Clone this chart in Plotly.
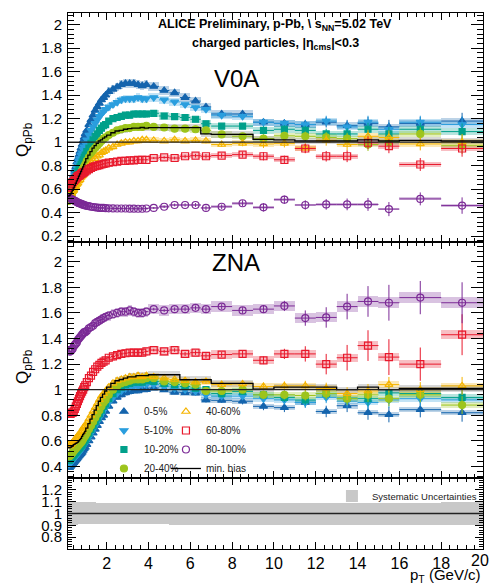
import plotly.graph_objects as go

# ---------------- data ----------------
pt_edges = [0.15, 0.2, 0.25, 0.3, 0.35, 0.4, 0.45, 0.5, 0.55, 0.6, 0.65, 0.7, 0.75, 0.8, 0.85, 0.9, 0.95, 1.0,
            1.1, 1.2, 1.3, 1.4, 1.5, 1.6, 1.7, 1.8, 1.9, 2.0,
            2.2, 2.4, 2.6, 2.8, 3.0, 3.2, 3.4, 3.6, 3.8, 4.0,
            4.5, 5.0, 5.5, 6.0, 6.5, 7.0, 8.0, 9.0, 10, 11, 12, 13, 14, 15, 16, 18, 20]

centrality_labels = ["0-5%", "5-10%", "10-20%", "20-40%", "40-60%", "60-80%", "80-100%"]

# V0A estimator
v0a_0_5 = [0.55, 0.58, 0.62, 0.65, 0.69, 0.72, 0.76, 0.79, 0.83, 0.86, 0.89, 0.92, 0.95, 0.98, 1.01, 1.04, 1.07,
           1.10, 1.15, 1.19, 1.23, 1.27, 1.30, 1.33, 1.36, 1.38, 1.40,
           1.43, 1.45, 1.47, 1.49, 1.50, 1.50, 1.50, 1.49, 1.48, 1.49,
           1.475, 1.44, 1.42, 1.38, 1.35, 1.30,
           1.24, 1.24, 1.17, 1.16, 1.15, 1.17, 1.14, 1.16, 1.13,
           1.16, 1.18]
v0a_5_10 = [0.55, 0.57, 0.60, 0.63, 0.66, 0.69, 0.72, 0.75, 0.78, 0.81, 0.84, 0.86, 0.89, 0.91, 0.94, 0.96, 0.99,
            1.02, 1.06, 1.10, 1.13, 1.16, 1.19, 1.22, 1.24, 1.26, 1.28,
            1.30, 1.32, 1.34, 1.36, 1.37, 1.37, 1.37, 1.38, 1.37, 1.37,
            1.38, 1.36, 1.343, 1.32, 1.295, 1.28,
            1.23, 1.22, 1.17, 1.16, 1.15, 1.18, 1.13, 1.17, 1.11,
            1.17, 1.15]
v0a_10_20 = [0.55, 0.57, 0.59, 0.61, 0.63, 0.66, 0.68, 0.70, 0.73, 0.75, 0.77, 0.79, 0.81, 0.83, 0.85, 0.87, 0.89,
             0.92, 0.95, 0.99, 1.02, 1.05, 1.07, 1.10, 1.12, 1.14, 1.15,
             1.18, 1.20, 1.21, 1.22, 1.23, 1.23, 1.24, 1.24, 1.24, 1.24,
             1.246, 1.223, 1.217, 1.21, 1.195, 1.157,
             1.137, 1.137, 1.10, 1.11, 1.10, 1.07, 1.07, 1.11, 1.07,
             1.11, 1.09]
v0a_20_40 = [0.50, 0.52, 0.54, 0.56, 0.58, 0.60, 0.62, 0.64, 0.66, 0.68, 0.70, 0.72, 0.74, 0.76, 0.78, 0.79, 0.81,
             0.84, 0.87, 0.90, 0.93, 0.95, 0.97, 0.99, 1.01, 1.03, 1.04,
             1.06, 1.08, 1.10, 1.11, 1.12, 1.12, 1.13, 1.13, 1.13, 1.14,
             1.13, 1.125, 1.115, 1.115, 1.11, 1.10,
             1.066, 1.05, 1.03, 1.054, 1.05, 1.04, 1.03, 0.98, 1.00,
             1.07, 0.97]
v0a_40_60 = [0.52, 0.53, 0.55, 0.56, 0.58, 0.59, 0.61, 0.62, 0.64, 0.65, 0.67, 0.68, 0.70, 0.71, 0.72, 0.74, 0.75,
             0.77, 0.79, 0.82, 0.84, 0.86, 0.88, 0.89, 0.91, 0.92, 0.93,
             0.95, 0.96, 0.98, 0.99, 1.00, 1.00, 1.01, 1.01, 1.02, 1.02,
             1.015, 1.01, 1.02, 1.01, 1.015, 1.01,
             0.98, 0.99, 0.985, 0.99, 0.95, 1.015, 0.98, 1.05, 1.04,
             0.985, 1.00]
v0a_60_80 = [0.61, 0.62, 0.63, 0.645, 0.66, 0.67, 0.68, 0.69, 0.70, 0.71, 0.715, 0.72, 0.73, 0.735, 0.74, 0.745, 0.75,
             0.76, 0.77, 0.78, 0.79, 0.795, 0.80, 0.805, 0.81, 0.815, 0.82,
             0.825, 0.83, 0.835, 0.84, 0.84, 0.845, 0.845, 0.85, 0.85, 0.85,
             0.865, 0.87, 0.865, 0.88, 0.885, 0.88,
             0.886, 0.894, 0.88, 0.85, 0.946, 0.88, 0.88, 0.995, 0.966,
             0.81, 0.946]
v0a_80_100 = [0.53, 0.525, 0.52, 0.515, 0.51, 0.505, 0.50, 0.495, 0.49, 0.485, 0.48, 0.478, 0.475, 0.47, 0.468, 0.465, 0.46,
              0.458, 0.455, 0.45, 0.448, 0.445, 0.443, 0.44, 0.44, 0.44, 0.438,
              0.437, 0.436, 0.435, 0.435, 0.435, 0.434, 0.434, 0.433, 0.433, 0.435,
              0.44, 0.45, 0.465, 0.465, 0.465, 0.44,
              0.45, 0.48, 0.445, 0.51, 0.465, 0.47, 0.47, 0.47, 0.43,
              0.517, 0.46]
v0a_minbias = [0.54, 0.545, 0.56, 0.575, 0.59, 0.61, 0.63, 0.65, 0.67, 0.69, 0.71, 0.73, 0.75, 0.77, 0.79, 0.81, 0.83,
               0.86, 0.89, 0.92, 0.95, 0.97, 0.99, 1.01, 1.02, 1.035, 1.045,
               1.06, 1.08, 1.095, 1.10, 1.11, 1.115, 1.12, 1.12, 1.125, 1.12,
               1.123, 1.123, 1.123, 1.123, 1.123, 1.07,
               1.066, 1.066, 1.023, 1.02, 1.01, 1.01, 1.01, 1.02, 1.01,
               1.015, 1.01]

# ZNA estimator
zna_0_5 = [0.39, 0.39, 0.40, 0.41, 0.42, 0.43, 0.44, 0.45, 0.46, 0.47, 0.48, 0.49, 0.50, 0.51, 0.525, 0.54, 0.55,
           0.57, 0.60, 0.63, 0.66, 0.69, 0.72, 0.75, 0.78, 0.80, 0.83,
           0.87, 0.91, 0.94, 0.96, 0.975, 0.985, 0.99, 0.99, 1.00, 1.00,
           1.013, 1.00, 0.98, 0.977, 0.974, 0.92,
           0.917, 0.91, 0.87, 0.86, 0.90, 0.83, 0.875, 0.82, 0.805,
           0.844, 0.82]
zna_5_10 = [0.42, 0.42, 0.43, 0.44, 0.45, 0.46, 0.47, 0.48, 0.49, 0.50, 0.51, 0.52, 0.53, 0.545, 0.56, 0.57, 0.585,
            0.60, 0.63, 0.66, 0.69, 0.72, 0.75, 0.78, 0.81, 0.84, 0.86,
            0.90, 0.94, 0.97, 0.99, 1.01, 1.02, 1.03, 1.03, 1.04, 1.04,
            1.04, 1.025, 1.01, 1.00, 0.987, 0.96,
            0.95, 0.95, 0.93, 0.92, 0.90, 0.94, 0.91, 0.90, 0.92,
            0.93, 0.92]
zna_10_20 = [0.45, 0.45, 0.46, 0.47, 0.48, 0.49, 0.50, 0.51, 0.52, 0.53, 0.54, 0.55, 0.56, 0.57, 0.585, 0.60, 0.61,
             0.63, 0.66, 0.69, 0.72, 0.75, 0.78, 0.81, 0.84, 0.87, 0.89,
             0.93, 0.97, 1.00, 1.02, 1.04, 1.05, 1.06, 1.06, 1.06, 1.07,
             1.065, 1.05, 1.04, 1.025, 1.013, 1.00,
             0.97, 0.987, 0.96, 0.94, 0.92, 0.97, 0.935, 0.93, 0.975,
             0.97, 0.94]
zna_20_40 = [0.48, 0.48, 0.49, 0.50, 0.51, 0.52, 0.53, 0.54, 0.55, 0.56, 0.57, 0.58, 0.59, 0.60, 0.615, 0.63, 0.64,
             0.66, 0.69, 0.72, 0.75, 0.78, 0.81, 0.84, 0.87, 0.90, 0.92,
             0.96, 1.00, 1.03, 1.05, 1.06, 1.07, 1.08, 1.08, 1.08, 1.09,
             1.09, 1.065, 1.06, 1.05, 1.04, 0.99,
             0.99, 1.00, 0.96, 0.96, 0.955, 0.97, 0.93, 0.96, 0.93,
             0.96, 0.88]
zna_40_60 = [0.57, 0.56, 0.57, 0.58, 0.59, 0.60, 0.61, 0.62, 0.63, 0.64, 0.65, 0.66, 0.67, 0.68, 0.70, 0.71, 0.72,
             0.74, 0.77, 0.80, 0.83, 0.86, 0.89, 0.92, 0.95, 0.97, 0.99,
             1.02, 1.05, 1.07, 1.08, 1.09, 1.10, 1.10, 1.11, 1.10, 1.11,
             1.10, 1.09, 1.08, 1.07, 1.06, 1.065,
             1.04, 1.045, 1.025, 1.03, 1.03, 1.01, 0.97, 0.99, 1.04,
             1.00, 1.03]
zna_60_80 = [0.82, 0.81, 0.81, 0.82, 0.82, 0.83, 0.85, 0.87, 0.89, 0.91, 0.93, 0.95, 0.97, 0.985, 1.00, 1.02, 1.035,
             1.06, 1.09, 1.11, 1.14, 1.16, 1.18, 1.195, 1.21, 1.22, 1.23,
             1.25, 1.26, 1.27, 1.28, 1.285, 1.29, 1.29, 1.29, 1.29, 1.30,
             1.31, 1.30, 1.31, 1.28, 1.29, 1.265,
             1.275, 1.28, 1.23, 1.28, 1.28, 1.20, 1.25, 1.345, 1.255,
             1.20, 1.43]
zna_80_100 = [1.31, 1.30, 1.30, 1.31, 1.32, 1.34, 1.35, 1.36, 1.37, 1.39, 1.40, 1.41, 1.42, 1.43, 1.44, 1.45, 1.45,
              1.46, 1.48, 1.49, 1.50, 1.52, 1.53, 1.54, 1.55, 1.56, 1.57,
              1.58, 1.59, 1.60, 1.61, 1.61, 1.62, 1.61, 1.60, 1.60, 1.61,
              1.63, 1.62, 1.63, 1.63, 1.64, 1.63,
              1.65, 1.62, 1.63, 1.655, 1.56, 1.565, 1.65, 1.69, 1.68,
              1.72, 1.68]
zna_minbias = [0.55, 0.545, 0.55, 0.555, 0.56, 0.57, 0.575, 0.58, 0.585, 0.59, 0.60, 0.61, 0.62, 0.635, 0.65, 0.66, 0.675,
               0.70, 0.735, 0.77, 0.805, 0.84, 0.875, 0.91, 0.94, 0.965, 0.99,
               1.02, 1.05, 1.07, 1.08, 1.09, 1.10, 1.10, 1.11, 1.11, 1.11,
               1.117, 1.117, 1.117, 1.078, 1.078, 1.078,
               1.05, 1.05, 1.005, 1.02, 1.02, 1.02, 1.00, 1.02, 1.00,
               1.01, 1.01]

# statistical uncertainties (absolute)
stat_v0a = [0.004] * 37 + [0.008, 0.01, 0.012, 0.014, 0.016, 0.02,
                           0.02, 0.025, 0.035, 0.035, 0.04, 0.045, 0.05, 0.055, 0.06, 0.055, 0.07]
stat_zna_central = [0.004] * 37 + [0.01, 0.012, 0.014, 0.016, 0.018, 0.02,
                                   0.02, 0.025, 0.03, 0.035, 0.04, 0.045, 0.05, 0.055, 0.06, 0.06, 0.07]
stat_zna_periph = [0.004] * 37 + [0.01, 0.012, 0.014, 0.016, 0.018, 0.02,
                                  0.02, 0.025, 0.03, 0.04, 0.06, 0.08, 0.1, 0.12, 0.14, 0.13, 0.16]

# global systematic uncertainty band (bottom pad)
sys_up = [0.094] * 22 + [0.088] * 31 + [0.094]
sys_down = [0.095] * 9 + [0.09] * 30 + [0.095] * 15

# x tick labels of the bottom pad
x_tick_values = [2, 4, 6, 8, 10, 12, 14, 16, 18]
x_tick_last = 20

# ---------------- styling ----------------
FONT = "Liberation Sans, Arial, Helvetica, sans-serif"
colors = ["#1464ad", "#2a9ede", "#00a08a", "#9dc41c", "#f5b400", "#e8192c", "#7b2a96"]
symbols = ["triangle-up", "triangle-down", "square", "circle",
           "triangle-up-open", "square-open", "circle-open"]
sizes = [7, 7, 6, 7, 7, 7, 7]
SYS_REL = 0.025

centers = [(a + b) / 2 for a, b in zip(pt_edges[:-1], pt_edges[1:])]
halfw = [(b - a) / 2 for a, b in zip(pt_edges[:-1], pt_edges[1:])]
widths = [(b - a) for a, b in zip(pt_edges[:-1], pt_edges[1:])]

v0a_sets = [v0a_0_5, v0a_5_10, v0a_10_20, v0a_20_40, v0a_40_60, v0a_60_80, v0a_80_100]
zna_sets = [zna_0_5, zna_5_10, zna_10_20, zna_20_40, zna_40_60, zna_60_80, zna_80_100]

fig = go.Figure()


def add_series(vals, err, xa, ya, name, color, symbol, size, show, legend):
    fig.add_trace(go.Bar(
        x=centers, y=[2 * SYS_REL * v for v in vals], base=[v * (1 - SYS_REL) for v in vals],
        width=widths, marker=dict(color=color, line=dict(width=0)), opacity=0.28,
        xaxis=xa, yaxis=ya, showlegend=False, hoverinfo="skip"))
    fig.add_trace(go.Scatter(
        x=centers, y=vals, mode="markers", name=name,
        marker=dict(symbol=symbol, size=size, color=color, line=dict(width=1.2, color=color)),
        error_x=dict(type="data", array=halfw, thickness=1, width=0, color=color),
        error_y=dict(type="data", array=err, thickness=1, width=0, color=color),
        xaxis=xa, yaxis=ya, showlegend=show, legend=legend))


def add_minbias(vals, xa, ya, show):
    fig.add_trace(go.Bar(
        x=centers, y=[2 * SYS_REL * v for v in vals], base=[v * (1 - SYS_REL) for v in vals],
        width=widths, marker=dict(color="#808080", line=dict(width=0)), opacity=0.3,
        xaxis=xa, yaxis=ya, showlegend=False, hoverinfo="skip"))
    fig.add_trace(go.Scatter(
        x=pt_edges, y=vals + [vals[-1]], mode="lines", line=dict(color="black", width=1.3, shape="hv"),
        name="min. bias", xaxis=xa, yaxis=ya, showlegend=show, legend="legend2"))


for i in range(7):
    add_series(v0a_sets[i], stat_v0a, "x", "y", centrality_labels[i], colors[i], symbols[i], sizes[i], False, "legend")
add_minbias(v0a_minbias, "x", "y", False)

for i in range(7):
    err = stat_zna_periph if i >= 5 else stat_zna_central
    leg = "legend" if i < 4 else "legend2"
    add_series(zna_sets[i], err, "x2", "y2", centrality_labels[i], colors[i], symbols[i], sizes[i], True, leg)
add_minbias(zna_minbias, "x2", "y2", True)

# systematic band
fig.add_trace(go.Bar(
    x=centers, y=[u + d for u, d in zip(sys_up, sys_down)], base=[1 - d for d in sys_down],
    width=widths, marker=dict(color="#c8c8c8", line=dict(width=0)),
    name="Systematic Uncertainties", xaxis="x3", yaxis="y3", showlegend=True, legend="legend3",
    hoverinfo="skip"))

xcommon = dict(range=[0.15, 20], showline=True, linecolor="black", linewidth=1, mirror="ticks",
               ticks="inside", ticklen=7, tickcolor="black", dtick=2, tick0=0,
               minor=dict(dtick=0.4, tick0=0, ticklen=4, ticks="inside", tickcolor="black"),
               showgrid=False, zeroline=False,
               tickfont=dict(family=FONT, size=16, color="black"))
ycommon = dict(showline=True, linecolor="black", linewidth=1, mirror="ticks",
               ticks="inside", ticklen=12, tickcolor="black", showgrid=False, zeroline=False,
               tickfont=dict(family=FONT, size=15, color="black"), ticklabelstandoff=2)

fig.update_layout(
    width=491, height=585,
    margin=dict(l=68, r=8, t=13, b=36),
    paper_bgcolor="white", plot_bgcolor="white",
    barmode="overlay", bargap=0,
    font=dict(family=FONT, color="black"),
    xaxis=dict(xcommon, anchor="y", showticklabels=False),
    xaxis2=dict(xcommon, anchor="y2", showticklabels=False),
    xaxis3=dict(xcommon, anchor="y3", showticklabels=True, tickmode="array",
                tickvals=x_tick_values + [x_tick_last],
                ticktext=[str(v) for v in x_tick_values] + [""]),
    yaxis=dict(ycommon, domain=[0.5728, 1.0], range=[0.15, 2.1], dtick=0.2, tick0=0,
               minor=dict(dtick=0.04, ticklen=6, ticks="inside", tickcolor="black")),
    yaxis2=dict(ycommon, domain=[0.1325, 0.5728], range=[0.31, 2.155], dtick=0.2, tick0=0,
                minor=dict(dtick=0.04, ticklen=6, ticks="inside", tickcolor="black")),
    yaxis3=dict(ycommon, domain=[0.0, 0.1325], range=[0.7, 1.3],
                tickvals=[0.8, 0.9, 1.0, 1.1, 1.2], ticktext=["0.8", "0.9", "1", "1.1", "1.2"],
                ticklen=8,
                minor=dict(dtick=0.02, ticklen=4, ticks="inside", tickcolor="black")),
    legend=dict(x=0.0866, y=0.2836, xanchor="left", yanchor="top", bgcolor="rgba(0,0,0,0)",
                font=dict(family=FONT, size=10, color="#222"), itemwidth=30, tracegroupgap=0),
    legend2=dict(x=0.236, y=0.2836, xanchor="left", yanchor="top", bgcolor="rgba(0,0,0,0)",
                 font=dict(family=FONT, size=10, color="#222"), itemwidth=30, tracegroupgap=0),
    legend3=dict(x=0.636, y=0.126, xanchor="left", yanchor="top", bgcolor="rgba(0,0,0,0)",
                 font=dict(family=FONT, size=9.5, color="#222"), itemwidth=30),
    showlegend=True,
)

for ya, xd in [("y", "x domain"), ("y2", "x2 domain"), ("y3", "x3 domain")]:
    fig.add_shape(type="line", xref=xd, x0=0, x1=1, yref=ya, y0=1, y1=1,
                  line=dict(color="#222", width=1.3), layer="above")

ann = [
    dict(text="<b>ALICE Preliminary, p-Pb, \\ s<sub>NN</sub>=5.02 TeV</b>", x=0.499, y=0.9776, size=12.5),
    dict(text="<b>charged particles, |η<sub>cms</sub>|&lt;0.3</b>", x=0.499, y=0.942, size=12.5),
    dict(text="V0A", x=0.405, y=0.877, size=24),
    dict(text="ZNA", x=0.405, y=0.5345, size=24),
]
for a in ann:
    fig.add_annotation(text=a["text"], x=a["x"], y=a["y"], xref="paper", yref="paper",
                       xanchor="center", yanchor="middle", showarrow=False,
                       font=dict(family=FONT, size=a["size"], color="black"))

# last x tick label, kept inside the page (right-aligned like the reference)
fig.add_annotation(text=str(x_tick_last), x=x_tick_last, xref="x3", y=0, yref="paper",
                   xanchor="right", yanchor="top", xshift=8, yshift=-1, showarrow=False,
                   font=dict(family=FONT, size=16, color="black"))

for yy in [0.763, 0.3396]:
    fig.add_annotation(text="Q<sub>pPb</sub>", x=-0.106, y=yy, xref="paper", yref="paper",
                       xanchor="center", yanchor="middle", textangle=-90, showarrow=False,
                       font=dict(family=FONT, size=17, color="black"))

fig.add_annotation(text="p<sub>T</sub> (GeV/c)", x=1.0, y=-0.0495, xref="paper", yref="paper",
                   xanchor="right", yanchor="middle", showarrow=False,
                   font=dict(family=FONT, size=15, color="black"))

fig.write_html("out.html", config={"displayModeBar": False},
               post_script="document.body.style.margin='0px';")
